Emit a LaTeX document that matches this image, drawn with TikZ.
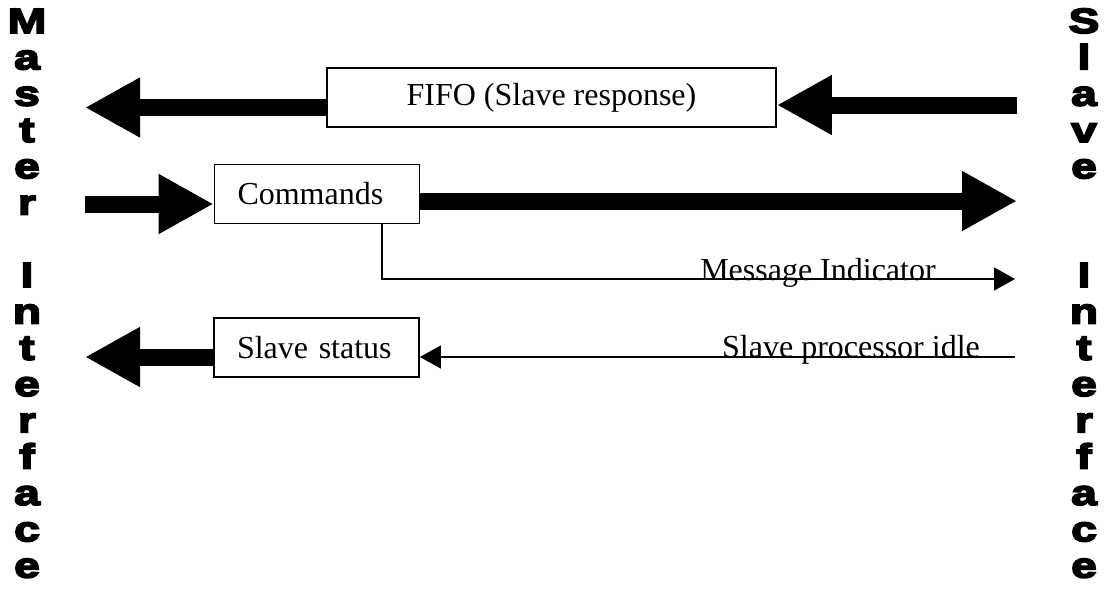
\documentclass[tikz,border=0pt]{standalone}
\usepackage{fontspec}
\setmainfont{Liberation Serif}
\newfontfamily\heavy{Liberation Sans}[UprightFont={* Bold}, FakeBold=5, FakeStretch=1.32]
\usetikzlibrary{arrows.meta}
\begin{document}
\begin{tikzpicture}[x=1pt,y=-1pt,
  box/.style={draw=black, line width=1.8pt, fill=white, inner sep=0pt, font=\fontsize{32}{36}\selectfont},
  leftbox/.style={box, inner xsep=23pt, text width=159pt, align=left, minimum height=59pt},
  bigarrow/.style={line width=17pt, -{Triangle[length=55pt,width=56pt]}},
  thinarrow/.style={line width=1.5pt, -{Triangle[length=21pt,width=23pt]}},
  lbl/.style={inner sep=0pt, anchor=base, font=\fontsize{32}{36}\selectfont},
  side/.style={inner sep=0pt, anchor=base, font=\heavy\fontsize{35}{36}\selectfont}]
\useasboundingbox (0,0) rectangle (1112,592);
\fill[white] (0,0) rectangle (1112,592);

% boxes
\node[box, minimum width=449pt, minimum height=59pt] (fifo) at (551.5,97.5) {FIFO (Slave response)};
\node[leftbox] (cmd) at (317,194) {Commands};
\node[leftbox] (stat) at (316.5,347.5) {Slave status};

% coordinates for free ends
\coordinate (mL1) at (85,107.5);
\coordinate (sR1) at (1017,105);
\coordinate (mL2) at (85,204);
\coordinate (sR2) at (1017,201);
\coordinate (mL3) at (85,357);
\coordinate (msgEnd) at (1015,279);
\coordinate (idleStart) at (1015,357);

% thick arrows
\draw[bigarrow] (fifo.west |- mL1) -- (mL1);
\draw[bigarrow] (sR1) -- (sR1 -| fifo.east);
\draw[bigarrow] (mL2) -- (mL2 -| cmd.west);
\draw[bigarrow] (cmd.east |- sR2) -- (sR2);
\draw[bigarrow] (stat.west |- mL3) -- (mL3);

% thin arrows
\draw[thinarrow] ([xshift=65pt]cmd.south) |- (msgEnd);
\draw[thinarrow] (idleStart) -- (idleStart -| stat.east);

% labels
\node[lbl] (msg) at (818,280) {Message Indicator};
\node[lbl] (idle) at (851,357) {Slave processor idle};

% side texts
\foreach \ch/\i in {M/0,a/1,s/2,t/3,e/4,r/5,I/7,n/8,t/9,e/10,r/11,f/12,a/13,c/14,e/15}
  \node[side] (ml\i) at (27,33+\i*36.3) {\ch};
\foreach \ch/\i in {S/0,l/1,a/2,v/3,e/4,I/7,n/8,t/9,e/10,r/11,f/12,a/13,c/14,e/15}
  \node[side] (sl\i) at (1084,33+\i*36.3) {\ch};
\end{tikzpicture}
\end{document}
